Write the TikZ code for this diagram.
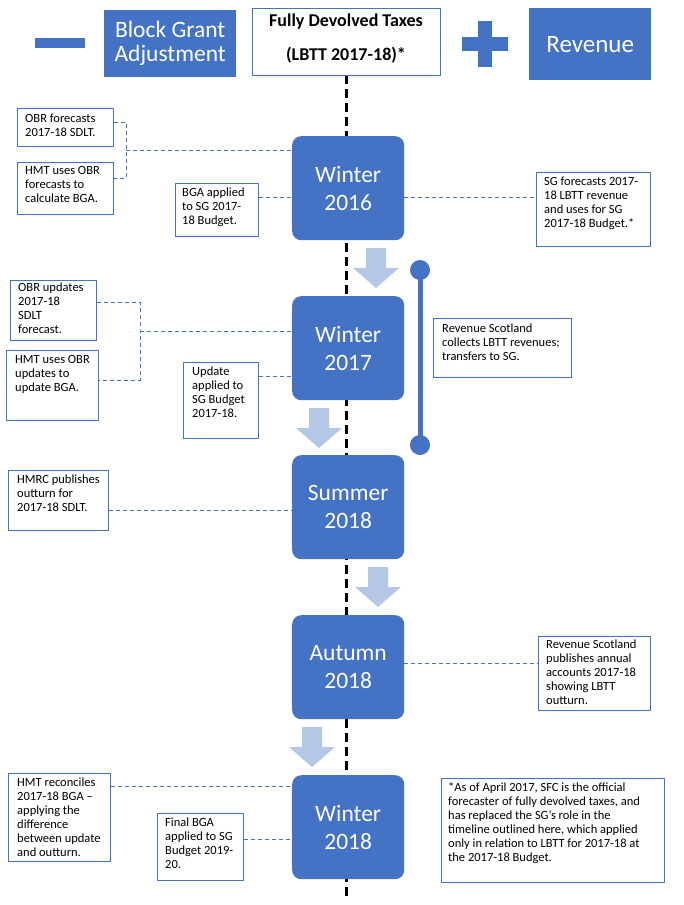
\documentclass[tikz,border=0pt]{standalone}
\usepackage{fontspec}
\setmainfont{Carlito}
\definecolor{bl}{HTML}{4472C4}
\definecolor{lb}{HTML}{B4C7E7}
\begin{document}
\begin{tikzpicture}[x=1pt,y=-1pt,
  frame/.style={draw=bl,line width=1pt,fill=white,inner sep=0pt,anchor=north west},
  txt/.style={anchor=north west,align=left,inner sep=0pt,font=\fontsize{12.5}{14}\selectfont},
  tl/.style={fill=bl,rounded corners=9pt,minimum width=112pt,minimum height=104pt,anchor=north west,text=white,align=center,font=\fontsize{23.5}{28}\selectfont,inner sep=0pt},
  con/.style={draw=bl,dashed,line width=0.8pt,dash pattern=on 4pt off 3pt},
  arr/.style={fill=lb}]
\useasboundingbox (0,0) rectangle (684,905);
% dashed axis
\draw[line width=3pt,dash pattern=on 9pt off 5pt] (346,75) -- (346,900);
% top
\node[fill=bl,minimum width=50pt,minimum height=10pt,inner sep=0pt] (minus) at (60,43) {};
\node[fill=bl,minimum width=132pt,minimum height=67pt,inner sep=0pt,anchor=north west,text=white,align=center,font=\fontsize{23.5}{24}\selectfont] (bga) at (104,10) {Block Grant\\Adjustment};
\node[frame,minimum width=188pt,minimum height=67pt] (fdt) at (252,8) {};
\node[font=\bfseries\fontsize{18}{18}\selectfont] (fdt1) at (346,22) {Fully Devolved Taxes};
\node[font=\bfseries\fontsize{18}{18}\selectfont] (fdt2) at (346,55) {(LBTT 2017-18)*};
\node[fill=bl,minimum width=46pt,minimum height=14pt,inner sep=0pt] (plush) at (485,44) {};
\node[fill=bl,minimum width=14pt,minimum height=46pt,inner sep=0pt] (plusv) at (485,44) {};
\node[fill=bl,minimum width=122pt,minimum height=72pt,inner sep=0pt,anchor=north west,text=white,font=\fontsize{25}{24}\selectfont] (rev) at (529,8) {Revenue};
% timeline boxes
\node[tl] (w16) at (292,136) {Winter\\2016};
\node[tl] (w17) at (292,296) {Winter\\2017};
\node[tl] (s18) at (292,455) {Summer\\2018};
\node[tl] (a18) at (292,615) {Autumn\\2018};
\node[tl] (w18) at (292,775) {Winter\\2018};
% arrows
\foreach \cx/\ty in {376/248,319/408,378/567,312/727}{
  \fill[lb] (\cx-10,\ty) -- (\cx+10,\ty) -- (\cx+10,\ty+20) -- (\cx+23,\ty+20) -- (\cx,\ty+40) -- (\cx-23,\ty+20) -- (\cx-10,\ty+20) -- cycle;}
% revenue scotland bar
\coordinate (bt) at (420,270);
\coordinate (bb) at (420,445);
\draw[bl,line width=5pt] (bt) -- (bb);
\fill[bl] (bt) circle (10pt) (bb) circle (10pt);
% side boxes
\node[frame,minimum width=96pt,minimum height=38pt] (b1) at (17,108) {};
\node[txt] at ([xshift=8pt,yshift=-6pt]b1.north west) {OBR forecasts\\2017-18 SDLT.};
\node[frame,minimum width=96pt,minimum height=52pt] (b2) at (17,162) {};
\node[txt] at ([xshift=8pt,yshift=-4pt]b2.north west) {HMT uses OBR\\forecasts to\\calculate BGA.};
\node[frame,minimum width=83pt,minimum height=53pt] (b3) at (175,183) {};
\node[txt] at ([xshift=7pt,yshift=-5pt]b3.north west) {BGA applied\\to SG 2017-\\18 Budget.};
\node[frame,minimum width=114pt,minimum height=74pt] (b4) at (536,172) {};
\node[txt] at ([xshift=8pt,yshift=-5pt]b4.north west) {SG forecasts 2017-\\18 LBTT revenue\\and uses for SG\\2017-18 Budget.*};
\coordinate (k1) at (126,150);
\draw[con] (b1.east |- 0,122) -| (k1) |- (b2.east |- 0,178);
\draw[con] (k1) -- (w16.west |- k1);
\draw[con] (b3.east |- 0,197) -- (w16.west |- 0,197);
\draw[con] (w16.east |- 0,197) -- (b4.west |- 0,197);
\node[frame,minimum width=86pt,minimum height=60pt] (b5) at (10,280) {};
\node[txt] at ([xshift=8pt,yshift=-3pt]b5.north west) {OBR updates\\2017-18\\SDLT\\forecast.};
\node[frame,minimum width=92pt,minimum height=70pt] (b6) at (6,350) {};
\node[txt] at ([xshift=9pt,yshift=-5pt]b6.north west) {HMT uses OBR\\updates to\\update BGA.};
\coordinate (k2) at (140,331);
\draw[con] (b5.east |- 0,302) -| (k2) |- (b6.east |- 0,380);
\draw[con] (k2) -- (w17.west |- k2);
\node[frame,minimum width=75pt,minimum height=76pt] (b7) at (183,362) {};
\node[txt] at ([xshift=9pt,yshift=-5pt]b7.north west) {Update\\applied to\\SG Budget\\2017-18.};
\draw[con] (b7.east |- 0,376) -- (w17.west |- 0,376);
\node[frame,minimum width=138pt,minimum height=59pt] (b8) at (433,318) {};
\node[txt] at ([xshift=9pt,yshift=-6pt]b8.north west) {Revenue Scotland\\collects LBTT revenues;\\transfers to SG.};
\node[frame,minimum width=100pt,minimum height=60pt] (b9) at (8,470) {};
\node[txt] at ([xshift=9pt,yshift=-5pt]b9.north west) {HMRC publishes\\outturn for\\2017-18 SDLT.};
\draw[con] (b9.east |- 0,510) -- (s18.west |- 0,510);
\node[frame,minimum width=112pt,minimum height=74pt] (b10) at (538,636) {};
\node[txt] at ([xshift=8pt,yshift=-4pt]b10.north west) {Revenue Scotland\\publishes annual\\accounts 2017-18\\showing LBTT\\outturn.};
\draw[con] (a18.east |- 0,663) -- (b10.west |- 0,663);
\node[frame,minimum width=102pt,minimum height=88pt] (b11) at (8,773) {};
\node[txt] at ([xshift=9pt,yshift=-5pt]b11.north west) {HMT reconciles\\2017-18 BGA --\\applying the\\difference\\between update\\and outturn.};
\draw[con] (b11.east |- 0,786) -- (w18.west |- 0,786);
\node[frame,minimum width=86pt,minimum height=67pt] (b12) at (157,813) {};
\node[txt] at ([xshift=8pt,yshift=-5pt]b12.north west) {Final BGA\\applied to SG\\Budget 2019-\\20.};
\draw[con] (b12.east |- 0,839) -- (w18.west |- 0,839);
\node[frame,minimum width=223pt,minimum height=104pt] (b13) at (441,778) {};
\node[txt] at ([xshift=7pt,yshift=-4pt]b13.north west) {*As of April 2017, SFC is the official\\forecaster of fully devolved taxes, and\\has replaced the SG's role in the\\timeline outlined here, which applied\\only in relation to LBTT for 2017-18 at\\the 2017-18 Budget.};
\end{tikzpicture}
\end{document}
